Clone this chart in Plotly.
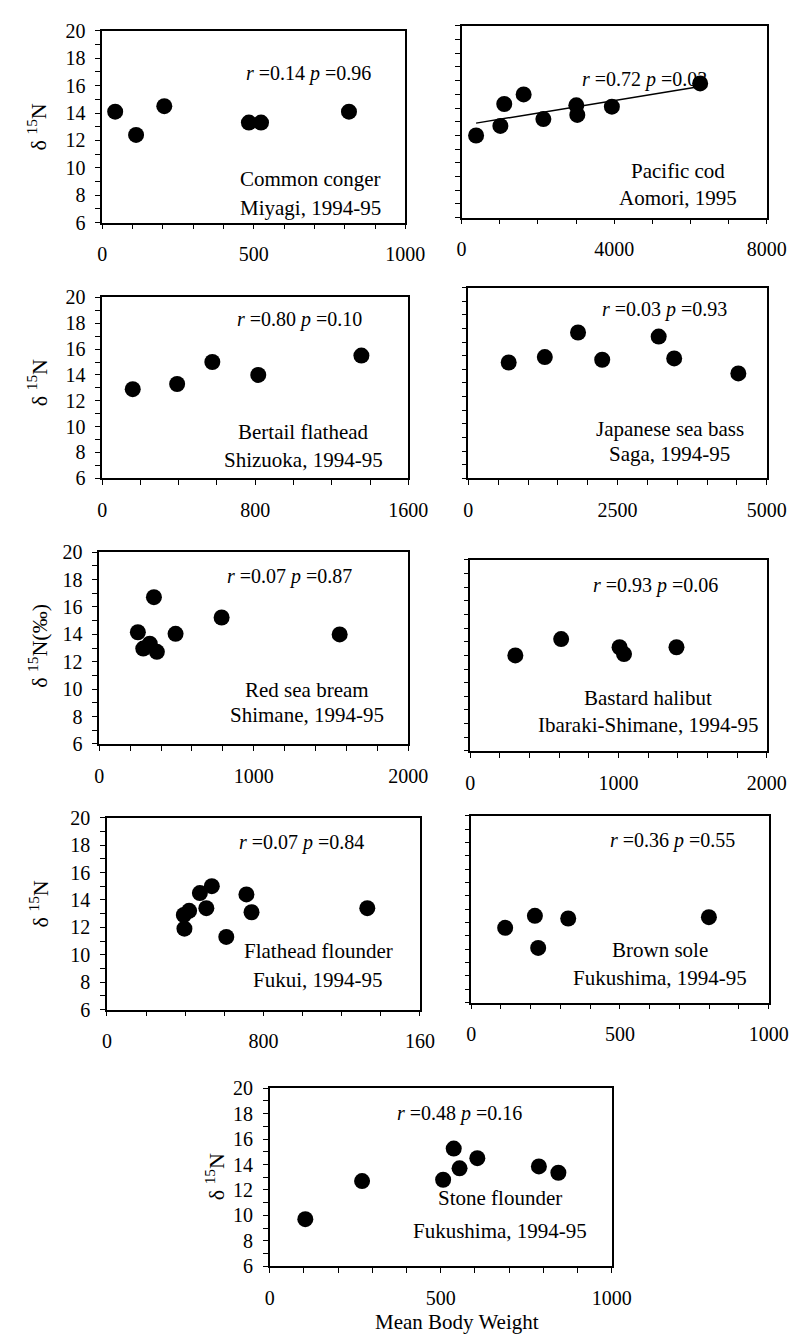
import plotly.graph_objects as go
import numpy as np

W, H = 802, 1344
FONT = "Liberation Serif"

# ---------------- data (mean body weight, delta 15N) ----------------
conger_x = [43, 112, 205, 484, 524, 814]
conger_y = [14.1, 12.4, 14.5, 13.3, 13.3, 14.1]

cod_x = [381, 1017, 1119, 1627, 2144, 3008, 3034, 3940, 6254]
cod_y = [12.0, 12.7, 14.3, 15.0, 13.2, 14.2, 13.5, 14.1, 15.8]

flathead_x = [160, 392, 576, 816, 1355]
flathead_y = [12.9, 13.3, 15.0, 14.0, 15.5]

seabass_x = [676, 1281, 1838, 2243, 3189, 3449, 4524]
seabass_y = [14.5, 14.9, 16.7, 14.7, 16.4, 14.8, 13.7]

bream_x = [250, 285, 327, 373, 354, 494, 792, 1556]
bream_y = [14.15, 12.96, 13.32, 12.72, 16.71, 14.04, 15.23, 13.99]

halibut_x = [304, 613, 1007, 1037, 1391]
halibut_y = [13.0, 14.2, 13.6, 13.1, 13.6]

flounder_x = [396, 393, 420, 475, 508, 536, 610, 713, 739, 1331]
flounder_y = [11.9, 12.9, 13.2, 14.5, 13.4, 15.0, 11.3, 14.4, 13.1, 13.4]

sole_x = [114, 214, 225, 326, 799]
sole_y = [11.6, 12.5, 10.1, 12.3, 12.4]

stone_x = [104, 270, 507, 538, 555, 607, 787, 844]
stone_y = [9.7, 12.7, 12.8, 15.25, 13.7, 14.5, 13.85, 13.35]

stats = ["<i>r</i> =0.14 <i>p</i> =0.96", "<i>r</i> =0.72 <i>p</i> =0.03",
         "<i>r</i> =0.80 <i>p</i> =0.10", "<i>r</i> =0.03 <i>p</i> =0.93",
         "<i>r</i> =0.07 <i>p</i> =0.87", "<i>r</i> =0.93 <i>p</i> =0.06",
         "<i>r</i> =0.07 <i>p</i> =0.84", "<i>r</i> =0.36 <i>p</i> =0.55",
         "<i>r</i> =0.48 <i>p</i> =0.16"]
species = ["Common conger", "Pacific cod", "Bertail flathead", "Japanese sea bass",
           "Red sea bream", "Bastard halibut", "Flathead flounder", "Brown sole",
           "Stone flounder"]
places = ["Miyagi, 1994-95", "Aomori, 1995", "Shizuoka, 1994-95", "Saga, 1994-95",
          "Shimane, 1994-95", "Ibaraki-Shimane, 1994-95", "Fukui, 1994-95",
          "Fukushima, 1994-95", "Fukushima, 1994-95"]
x_max = [1000, 8000, 1600, 5000, 2000, 2000, 1600, 1000, 1000]
x_step = [100, 1000, 200, 500, 200, 200, 200, 100, 100]
x_labels = [{0: "0", 500: "500", 1000: "1000"},
            {0: "0", 4000: "4000", 8000: "8000"},
            {0: "0", 800: "800", 1600: "1600"},
            {0: "0", 2500: "2500", 5000: "5000"},
            {0: "0", 1000: "1000", 2000: "2000"},
            {0: "0", 1000: "1000", 2000: "2000"},
            {0: "0", 800: "800", 1600: "160"},
            {0: "0", 500: "500", 1000: "1000"},
            {0: "0", 500: "500", 1000: "1000"}]
y_titles = ["δ <sup>15</sup>N", None, "δ <sup>15</sup>N", None,
            "δ <sup>15</sup>N(‰)", None, "δ <sup>15</sup>N", None, "δ <sup>15</sup>N"]

xs = [conger_x, cod_x, flathead_x, seabass_x, bream_x, halibut_x, flounder_x, sole_x, stone_x]
ys = [conger_y, cod_y, flathead_y, seabass_y, bream_y, halibut_y, flounder_y, sole_y, stone_y]

# ---------------- layout (pixel boxes: x0, x1, y_top, y_bottom) ----------------
boxes = [(92, 405, 12, 207), (463, 778, 7, 202),
         (92, 408, 283, 467), (470, 778, 273, 467),
         (89, 408, 542, 737), (472, 778, 550, 744),
         (97, 420, 812, 1007), (473, 780, 810, 1000),
         (265, 618, 1087, 1268)]
stat_pos = [(305, 55), (652, 61), (296, 305), (672, 295), (285, 567),
            (663, 576), (298, 837), (681, 835), (461, 1113)]
sp_pos = [(307, 163, 192), (686, 155, 182), (300, 420, 448), (678, 417, 442),
          (303, 682, 708), (655, 690, 718), (315, 948, 977), (668, 947, 975),
          (503, 1199, 1232)]
ytitle_pos = [(25, 110), None, (25, 370), None, (25, 637), None, (27, 900), None, (208, 1177)]


def px(x):
    return x / W


def py(y):
    return 1 - y / H


def label(x, y, text, size=20, angle=0):
    return dict(x=px(x), y=py(y), xref="paper", yref="paper", text=text,
                showarrow=False, xanchor="center", yanchor="middle", textangle=angle,
                font=dict(family=FONT, size=size, color="black"))


fig = go.Figure()
annotations = []
layout = dict(width=W, height=H, autosize=False, margin=dict(l=0, r=0, t=0, b=0),
              paper_bgcolor="white", plot_bgcolor="white", showlegend=False)

for i in range(9):
    n = i + 1
    sfx = "" if n == 1 else str(n)
    x0, x1, yt, yb = boxes[i]
    fig.add_trace(go.Scatter(x=xs[i], y=ys[i], mode="markers",
                             marker=dict(size=16, color="black", line=dict(width=0)),
                             xaxis="x" + sfx, yaxis="y" + sfx, cliponaxis=False))
    if i == 1:
        k, b = np.polyfit(cod_x, cod_y, 1)
        lx = [min(cod_x), max(cod_x)]
        fig.add_trace(go.Scatter(x=lx, y=[k * v + b for v in lx], mode="lines",
                                 line=dict(color="black", width=1.5),
                                 xaxis="x2", yaxis="y2"))
    xt = list(range(0, x_max[i] + 1, x_step[i]))
    xtt = [x_labels[i].get(v, "") for v in xt]
    yt_vals = list(range(6, 21))
    show_y = y_titles[i] is not None
    ytt = [str(v) if (v % 2 == 0 and show_y) else "" for v in yt_vals]
    common = dict(showline=True, linecolor="black", linewidth=1.5, mirror=True,
                  showgrid=False, zeroline=False, ticks="outside", ticklen=5,
                  tickwidth=1.3, tickcolor="black", tickmode="array",
                  tickfont=dict(family=FONT, size=20, color="black"))
    layout["xaxis" + sfx] = dict(domain=[px(x0), px(x1)], range=[0, x_max[i]],
                                 tickvals=xt, ticktext=xtt, anchor="y" + sfx,
                                 ticklabelstandoff=8, **common)
    layout["yaxis" + sfx] = dict(domain=[py(yb), py(yt)], range=[6, 20],
                                 tickvals=yt_vals, ticktext=ytt, anchor="x" + sfx,
                                 ticklabelstandoff=6, **common)
    sx, sy = stat_pos[i]
    annotations.append(label(sx, sy, stats[i], size=20))
    cx, y1, y2 = sp_pos[i]
    annotations.append(label(cx, y1, species[i], size=21))
    annotations.append(label(cx, y2, places[i], size=21))
    if show_y:
        tx, ty = ytitle_pos[i]
        annotations.append(label(tx, ty, y_titles[i], size=22, angle=-90))

annotations.append(label(458, 1325, "Mean Body Weight", size=21))
layout["annotations"] = annotations
fig.update_layout(**layout)
fig.write_html("out.html")
